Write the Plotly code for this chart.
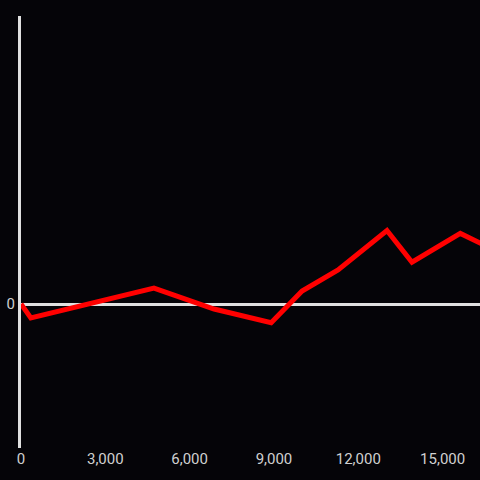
import plotly.graph_objects as go

x_vals = [0, 350, 4730, 6870, 8900, 10000, 11280, 13020, 13910, 15630, 16370]
y_vals = [0, -9.7, 11, -3.5, -13, 9, 23.6, 51, 29, 49, 42]
x_ticks = [0, 3000, 6000, 9000, 12000, 15000]
x_tick_text = ["0", "3,000", "6,000", "9,000", "12,000", "15,000"]

fig = go.Figure()
fig.add_trace(go.Scatter(x=x_vals, y=y_vals, mode="lines",
                         line=dict(color="#ff0000", width=5), hoverinfo="skip"))

fig.update_layout(
    width=480, height=480,
    margin=dict(l=21, r=0, t=16, b=32),
    paper_bgcolor="#050408", plot_bgcolor="#050408",
    showlegend=False,
    font=dict(family="Roboto, Arial, sans-serif", size=15, color="#d0d0d0"),
    xaxis=dict(range=[0, 16330], tickvals=x_ticks, ticktext=x_tick_text,
               showgrid=False, zeroline=False, showline=False, ticks=""),
    yaxis=dict(range=[-100, 200], tickvals=[0], ticktext=["0"],
               showgrid=False, zeroline=True, zerolinecolor="#e0e0e0", zerolinewidth=3,
               showline=True, linecolor="#e0e0e0", linewidth=3, ticks=""),
)
fig.write_html("out.html", config={"displayModeBar": False},
               post_script="document.body.style.margin='0';document.body.style.background='#050408';")
